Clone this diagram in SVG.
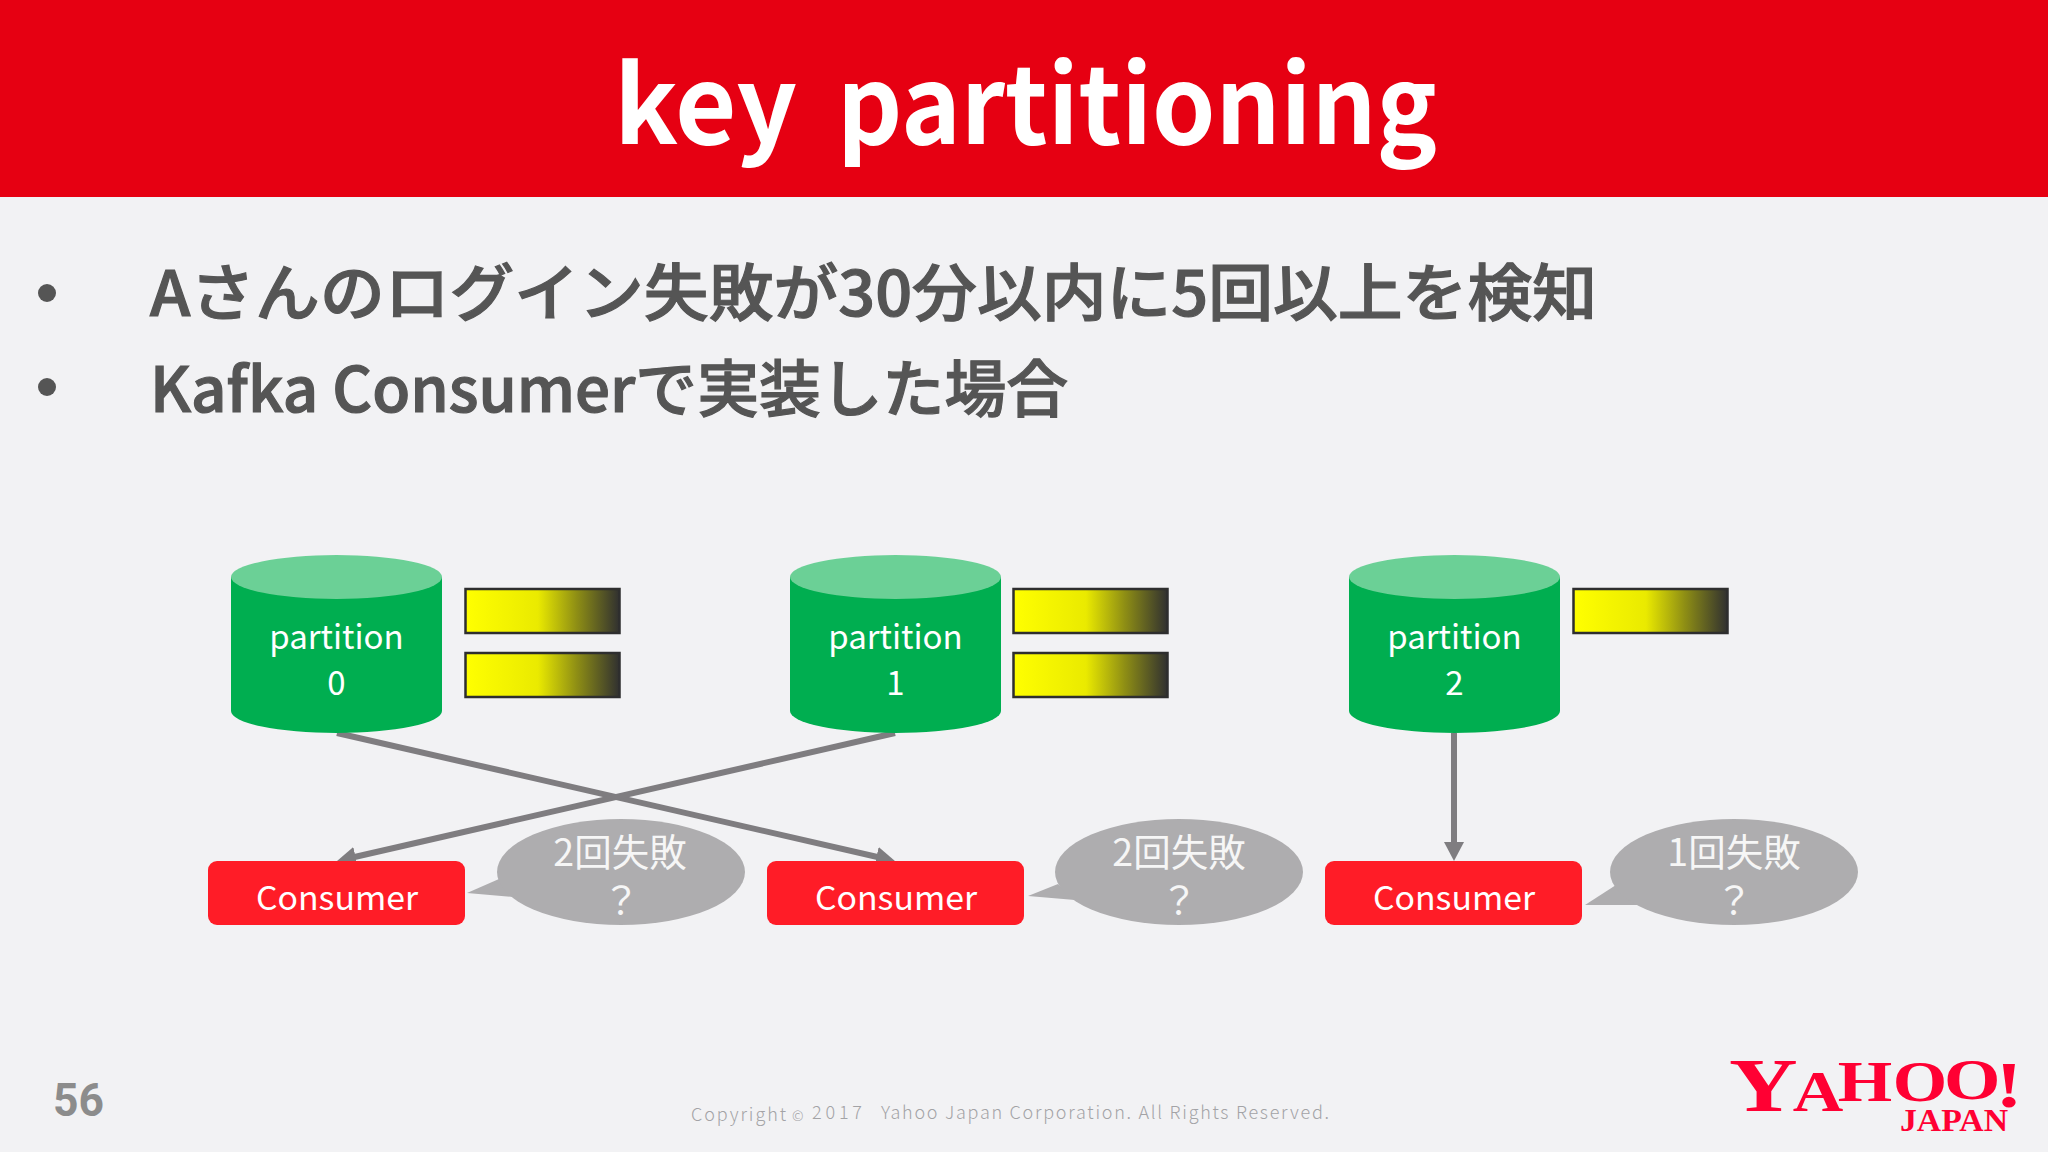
<svg xmlns="http://www.w3.org/2000/svg" width="2048" height="1152" viewBox="0 0 2048 1152">
<style>
text{font-family:"Noto Sans CJK JP","Noto Sans",sans-serif}
.t{fill:#fff;font-size:108px;font-weight:700}
.w{fill:#fff;font-size:33px;text-anchor:middle;font-weight:400}
.g{fill:#f6f6f6;font-size:37.500px;text-anchor:middle;font-weight:400}
.b{fill:#555;font-size:62px;font-weight:500;stroke:#555;stroke-width:1.200}
.cy{fill:#00ae50}.top{fill:#6bd096}
.bar{fill:url(#bg);stroke:#2e2e2e;stroke-width:2.500}
.cons{fill:#ff1c27}
.bub{fill:#aeadaf}
.c{stroke:#7f7d80;stroke-width:6;fill:none;marker-end:url(#ah)}
.lg{font-family:"Liberation Serif",serif;font-weight:700;fill:#ff0033}
.cp{fill:#a3a3a6;font-size:18px;font-weight:300}
</style>
<defs>
<linearGradient id="bg"><stop offset="0" stop-color="#ffff00"/><stop offset=".47" stop-color="#eaea00"/><stop offset=".72" stop-color="#8f8f14"/><stop offset="1" stop-color="#303030"/></linearGradient>
<marker id="ah" markerUnits="userSpaceOnUse" markerWidth="22" markerHeight="22" refX="10" refY="10" orient="auto"><path d="M0 0L19 10L0 20Z" fill="#7f7d80"/></marker>
</defs>
<rect width="2048" height="1152" fill="#f2f2f4"/>
<g id="header"><rect width="2048" height="197" fill="#e60012"/>
<text class="t" x="614" y="144" textLength="183" lengthAdjust="spacingAndGlyphs">key</text>
<text class="t" x="837" y="144" textLength="600" lengthAdjust="spacingAndGlyphs">partitioning</text></g>
<g id="bullets">
<circle cx="47" cy="293" r="9" fill="#555"/><circle cx="47" cy="387" r="9" fill="#555"/>
<text class="b" x="150" y="316" textLength="1447" lengthAdjust="spacingAndGlyphs">Aさんのログイン失敗が30分以内に5回以上を検知</text>
<text class="b" x="150" y="412" textLength="918" lengthAdjust="spacingAndGlyphs">Kafka Consumerで実装した場合</text>
</g>
<g id="connectors">
<path class="c" d="M337 733L886.200 859"/>
<path class="c" d="M895 733L345.800 859"/>
<path class="c" d="M1454 733V852"/>
</g>
<g id="partition0">
<path class="cy" d="M231 577V711A105.500 22 0 0 0 442 711V577Z"/><ellipse class="top" cx="336.500" cy="577" rx="105.500" ry="22"/>
<text class="w"><tspan x="336.500" y="649">partition</tspan><tspan x="336.500" y="695">0</tspan></text>
<rect class="bar" x="465.500" y="589" width="154" height="44"/><rect class="bar" x="465.500" y="653" width="154" height="44"/>
</g>
<g id="partition1">
<path class="cy" d="M790 577V711A105.500 22 0 0 0 1001 711V577Z"/><ellipse class="top" cx="895.500" cy="577" rx="105.500" ry="22"/>
<text class="w"><tspan x="895.500" y="649">partition</tspan><tspan x="895.500" y="695">1</tspan></text>
<rect class="bar" x="1013.500" y="589" width="154" height="44"/><rect class="bar" x="1013.500" y="653" width="154" height="44"/>
</g>
<g id="partition2">
<path class="cy" d="M1349 577V711A105.500 22 0 0 0 1560 711V577Z"/><ellipse class="top" cx="1454.500" cy="577" rx="105.500" ry="22"/>
<text class="w"><tspan x="1454.500" y="649">partition</tspan><tspan x="1454.500" y="695">2</tspan></text>
<rect class="bar" x="1573.500" y="589" width="154" height="44"/>
</g>
<g id="consumer0"><rect class="cons" x="208" y="861" width="257" height="64" rx="9"/><text class="w" x="337" y="910" textLength="162" lengthAdjust="spacingAndGlyphs">Consumer</text></g>
<g id="consumer1"><rect class="cons" x="767" y="861" width="257" height="64" rx="9"/><text class="w" x="896" y="910" textLength="162" lengthAdjust="spacingAndGlyphs">Consumer</text></g>
<g id="consumer2"><rect class="cons" x="1325" y="861" width="257" height="64" rx="9"/><text class="w" x="1454" y="910" textLength="162" lengthAdjust="spacingAndGlyphs">Consumer</text></g>
<g id="bubble0"><path class="bub" d="M467 893L499 879L514 897Z"/><ellipse class="bub" cx="621" cy="872" rx="124" ry="53"/>
<text class="g"><tspan x="620" y="866">2回失敗</tspan><tspan x="621" y="914">？</tspan></text></g>
<g id="bubble1"><path class="bub" d="M1028 896L1058 884L1075 900Z"/><ellipse class="bub" cx="1179" cy="872" rx="124" ry="53"/>
<text class="g"><tspan x="1179" y="866">2回失敗</tspan><tspan x="1179" y="914">？</tspan></text></g>
<g id="bubble2"><path class="bub" d="M1585 905L1616 885L1640 905Z"/><ellipse class="bub" cx="1734" cy="872" rx="124" ry="53"/>
<text class="g"><tspan x="1734" y="866">1回失敗</tspan><tspan x="1734" y="914">？</tspan></text></g>
<g id="footer">
<text x="53" y="1116" font-size="46" font-weight="700" fill="#8c8c8c" textLength="51" lengthAdjust="spacingAndGlyphs" style="font-family:'Roboto',sans-serif">56</text>
<text class="cp" x="691" y="1121" textLength="95" lengthAdjust="spacing">Copyright</text>
<text class="cp" x="792" y="1121" style="font-size:14px">©</text>
<text class="cp" x="812" y="1119" textLength="50" lengthAdjust="spacing">2017</text>
<text class="cp" x="881" y="1119" textLength="448" lengthAdjust="spacing">Yahoo Japan Corporation. All Rights Reserved.</text>
</g>
<g id="logo">
<text class="lg" transform="translate(1729 0) scale(1.250 1)"><tspan x="0" y="1111" font-size="76">Y</tspan><tspan x="51" y="1111" font-size="56">A</tspan><tspan x="87" y="1101" font-size="56">H</tspan><tspan x="131" y="1101" font-size="56">O</tspan><tspan x="172" y="1099" font-size="58">O</tspan><tspan x="213" y="1107" font-size="66">!</tspan></text>
<text class="lg" x="1900" y="1131" font-size="32" textLength="108" lengthAdjust="spacingAndGlyphs">JAPAN</text>
</g>
</svg>
